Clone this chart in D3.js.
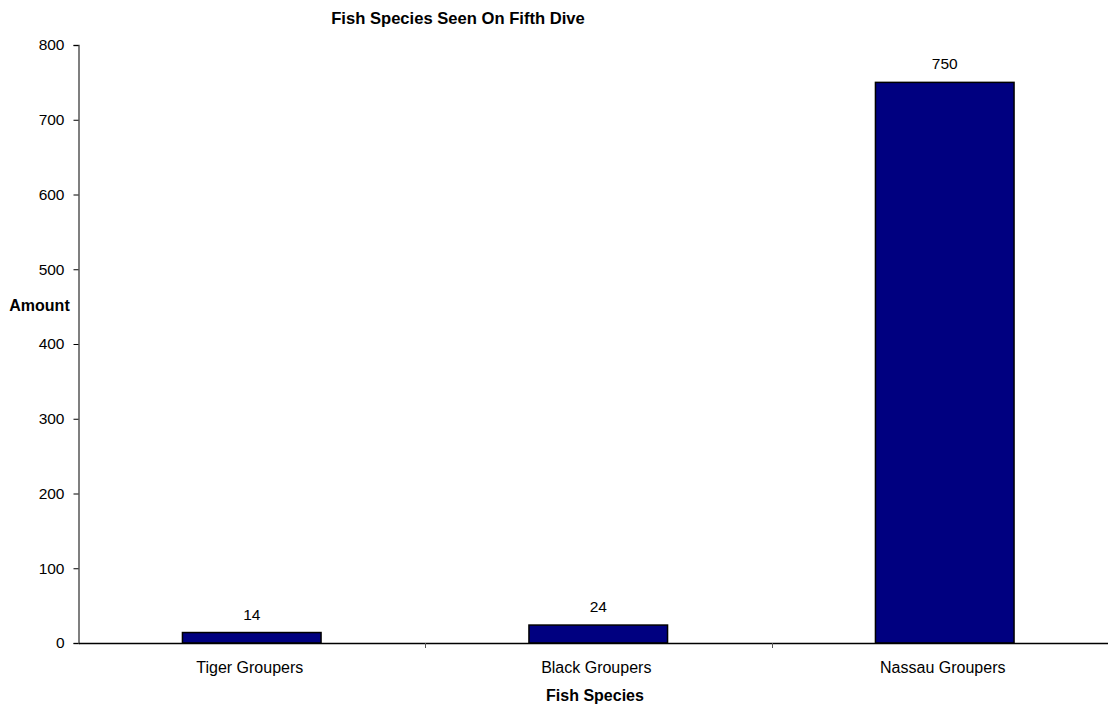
<!DOCTYPE html>
<html><head><meta charset="utf-8">
<script src="https://cdn.jsdelivr.net/npm/d3@7"></script>
<style>body{margin:0;background:#fff;} svg{display:block;} text{font-family:"Liberation Sans",Arial,sans-serif;}</style>
</head><body><svg id="c" width="1108" height="704"></svg>
<script>
const categories = ["Tiger Groupers", "Black Groupers", "Nassau Groupers"];
const values = [14, 24, 750];
const yTicks = [0, 100, 200, 300, 400, 500, 600, 700, 800];
const chartTitle = "Fish Species Seen On Fifth Dive";
const xTitle = "Fish Species";
const yTitle = "Amount";

(function () {
const FS = 15.5;
const svg = d3.select("#c");
const mLeft = 78.5, mRight = 1118, mTop = 45, mBottom = 643;
const x = d3.scaleBand().domain(categories).range([mLeft, mRight]).paddingInner(0.6).paddingOuter(0.3);
const xb = d3.scaleBand().domain(categories).range([mLeft, mRight]);
const y = d3.scaleLinear().domain([0, 800]).range([mBottom, mTop]);

// title
svg.append("text").attr("x", 458).attr("y", 23.5).attr("text-anchor", "middle")
  .attr("font-size", 16.6).attr("font-weight", "bold").text(chartTitle);

// bars
svg.selectAll("rect.bar").data(values).enter().append("rect")
  .attr("x", (d, i) => x(categories[i]))
  .attr("width", x.bandwidth())
  .attr("y", d => y(d))
  .attr("height", d => y(0) - y(d))
  .attr("fill", "#000080").attr("stroke", "#000").attr("stroke-width", 1.5);

// value labels
svg.selectAll("text.val").data(values).enter().append("text")
  .attr("x", (d, i) => x(categories[i]) + x.bandwidth() / 2)
  .attr("y", d => y(d) - 13).attr("text-anchor", "middle").attr("font-size", FS)
  .attr("fill", "#000").text(d => d);

// y axis
const ya = svg.append("g").attr("transform", `translate(${mLeft},0)`)
  .call(d3.axisLeft(y).tickValues(yTicks).tickSize(5).tickPadding(9));
ya.select(".domain").attr("stroke", "#555").attr("stroke-width", 1.5);
ya.selectAll(".tick line").attr("stroke", "#000");
ya.selectAll("text").attr("font-size", FS).attr("fill", "#000").style("font-family", "Liberation Sans, Arial, sans-serif");

// x axis
const xa = svg.append("g").attr("transform", `translate(0,${mBottom})`)
  .call(d3.axisBottom(xb).tickSize(0).tickPadding(19));
xa.select(".domain").attr("stroke", "#000").attr("stroke-width", 1.5);
xa.selectAll("text").attr("font-size", 16).attr("fill", "#000").attr("dx", -2).style("font-family", "Liberation Sans, Arial, sans-serif");
// boundary ticks between categories
svg.selectAll("line.xt").data(categories.slice(1)).enter().append("line")
  .attr("x1", d => Math.round(xb(d)) + 0.5).attr("x2", d => Math.round(xb(d)) + 0.5)
  .attr("y1", mBottom).attr("y2", mBottom + 5).attr("stroke", "#555");

// axis titles
svg.append("text").attr("x", 595).attr("y", 701).attr("text-anchor", "middle")
  .attr("font-size", 16).attr("font-weight", "bold").text(xTitle);
svg.append("text").attr("x", 39.5).attr("y", 311).attr("text-anchor", "middle")
  .attr("font-size", 16).attr("font-weight", "bold").text(yTitle);
})();
</script></body></html>
